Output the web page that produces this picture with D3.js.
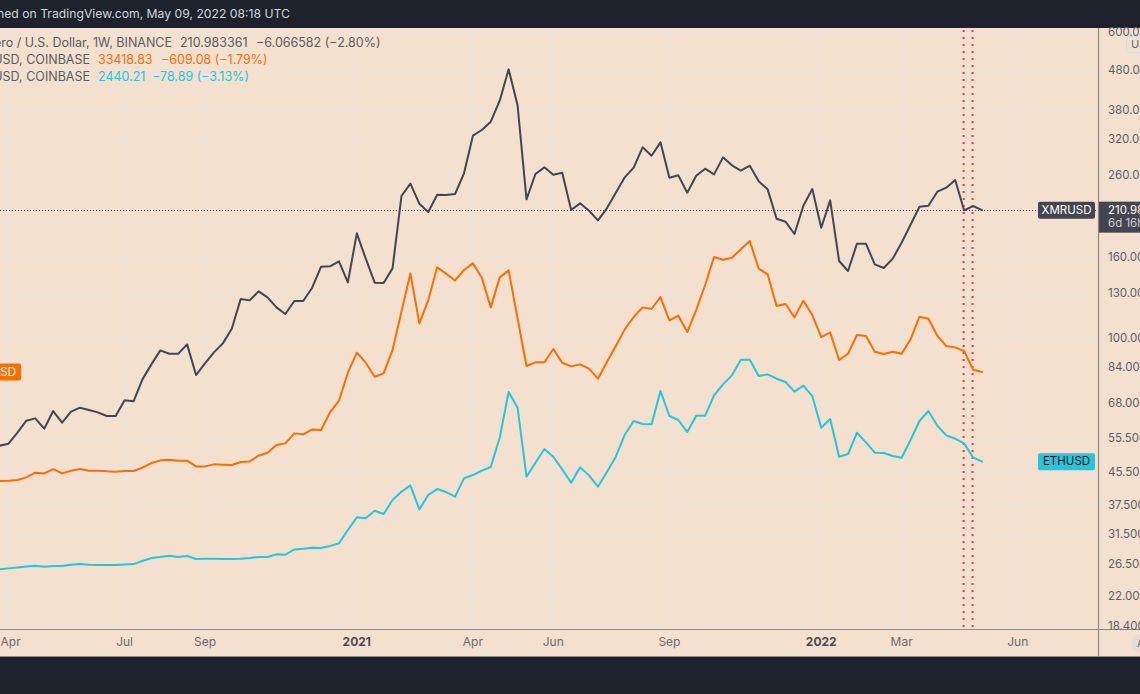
<!DOCTYPE html>
<html>
<head>
<meta charset="utf-8">
<script src="https://cdn.jsdelivr.net/npm/d3@7"></script>
<style>
  html, body { margin: 0; padding: 0; background: #1e222d; }
  svg { display: block; font-family: Inter, Roboto, "Noto Sans", sans-serif; }
</style>
</head>
<body>
<svg id="chart" width="1140" height="694"></svg>
<script>
// ---- Data (weekly closes, Mondays from 2020-03-30 to 2022-05-09), in price-scale units ----
const firstWeek = new Date(Date.UTC(2020, 2, 30));
const lastWeek = new Date(Date.UTC(2022, 4, 9));

const xmrValues = [52.98,
  53.61, 57.18, 61.35, 62.20, 58.54, 64.94, 60.64, 64.68, 66.22, 65.32,
  64.43, 63.06, 63.06, 69.13, 68.73, 78.19, 85.38, 92.70, 90.90, 90.90,
  96.02, 80.21, 85.89, 91.61, 96.58, 105.26, 125.27, 124.29, 131.03, 126.50,
  119.29, 114.71, 123.81, 123.81, 133.88, 151.44, 151.74, 156.25, 138.13, 184.15,
  158.72, 137.87, 137.59, 149.96, 229.23, 246.45, 219.15, 208.69, 231.03, 230.59,
  231.96, 261.84, 326.60, 337.63, 354.54, 401.04, 481.97, 390.19, 224.81, 260.82,
  271.22, 259.81, 262.86, 211.17, 219.59, 210.34, 198.75, 213.25, 233.77, 255.76,
  270.68, 304.98, 290.43, 314.08, 255.28, 258.80, 233.77, 258.28, 269.12, 260.30,
  287.62, 274.42, 265.96, 273.90, 249.85, 238.38, 200.69, 197.19, 183.43, 216.60,
  238.85, 190.36, 223.48, 156.56, 147.63, 173.32, 173.32, 153.52, 150.26, 158.72,
  174.33, 193.74, 215.32, 216.60, 235.13, 240.72, 251.80, 210.74, 216.16, 210.98];

const btcValues = [43.07,
  43.15, 43.32, 44.00, 45.22, 45.04, 46.21, 45.04, 45.76, 46.21, 45.76,
  45.76, 45.58, 45.49, 45.67, 45.67, 46.57, 47.86, 48.62, 48.81, 48.52,
  48.52, 46.93, 46.93, 47.49, 47.40, 47.30, 48.14, 48.33, 49.97, 50.85,
  53.19, 53.72, 56.96, 56.63, 58.31, 58.09, 64.43, 68.99, 81.31, 91.44,
  86.22, 79.43, 80.99, 92.87, 116.30, 145.62, 108.61, 124.54, 150.85, 145.35,
  139.76, 148.51, 154.43, 141.97, 119.29, 142.24, 148.21, 111.84, 84.56, 86.40,
  86.40, 93.42, 86.22, 84.39, 85.38, 83.24, 78.50, 86.56, 95.08, 104.85,
  112.71, 119.29, 118.14, 126.75, 110.54, 113.60, 103.22, 117.44, 136.00, 160.27,
  157.79, 159.64, 167.65, 176.05, 149.68, 144.78, 120.23, 121.65, 112.50, 124.06,
  114.05, 100.24, 103.02, 87.59, 90.90, 101.42, 100.82, 91.98, 90.73, 91.98,
  90.90, 98.87, 112.94, 111.62, 101.02, 95.08, 94.34, 92.34, 82.75, 81.63];

const ethValues = [25.65,
  25.80, 25.95, 26.10, 26.21, 26.05, 26.15, 26.15, 26.36, 26.46, 26.36,
  26.31, 26.31, 26.31, 26.41, 26.46, 26.93, 27.41, 27.57, 27.79, 27.57,
  27.74, 27.25, 27.30, 27.30, 27.25, 27.25, 27.30, 27.41, 27.57, 27.57,
  28.01, 27.95, 28.84, 28.95, 29.13, 29.07, 29.41, 29.88, 32.31, 34.80,
  34.60, 36.18, 35.49, 38.52, 40.45, 41.98, 36.47, 39.67, 41.09, 40.37,
  39.29, 43.74, 44.61, 45.76, 46.75, 55.53, 72.59, 66.22, 44.17, 47.95,
  51.96, 49.67, 46.12, 42.65, 46.66, 44.52, 41.66, 45.40, 49.67, 56.52,
  61.24, 60.17, 60.05, 73.02, 63.06, 61.60, 57.41, 63.18, 63.18, 71.19,
  75.93, 80.05, 87.75, 87.75, 79.74, 80.52, 78.50, 76.98, 72.74, 75.34,
  70.91, 58.89, 61.96, 49.67, 50.46, 57.18, 54.03, 50.85, 50.76, 49.87,
  49.38, 54.78, 61.24, 64.94, 59.58, 56.30, 55.20, 53.72, 49.48, 48.24];

const yGridValues = [600, 480, 380, 320, 260, 200, 160, 130, 100, 84, 68, 55.5, 45.5, 37.5, 31.5, 26.5, 22, 18.4];
const yTickLabels = ["600.00", "480.00", "380.00", "320.00", "260.00", "", "160.00", "130.00", "100.00", "84.000", "68.000", "55.500", "45.500", "37.500", "31.500", "26.500", "22.000", "18.400"];
const xTickDates = [[2020,3,6],[2020,6,6],[2020,8,7],[2021,0,4],[2021,3,5],[2021,5,7],[2021,8,6],[2022,0,3],[2022,2,7],[2022,5,6]];
const xTickLabels = ["Apr", "Jul", "Sep", "2021", "Apr", "Jun", "Sep", "2022", "Mar", "Jun"];
const markerDates = [[2022,3,25],[2022,4,2]];

const legendRows = [
  { name: "Monero / U.S. Dollar, 1W, BINANCE", last: "210.983361", change: "\u22126.066582 (\u22122.80%)" },
  { name: "BTCUSD, COINBASE", last: "33418.83", change: "\u2212609.08 (\u22121.79%)" },
  { name: "ETHUSD, COINBASE", last: "2440.21", change: "\u221278.89 (\u22123.13%)" }
];

// ---- Styles ----
const W = 1140, H = 694;
const plot = { left: 0, right: 1098, top: 28, bottom: 629 };
const bg = "#f3e0cf";
const gridColor = "#ebe3dc";
const colXmr = "#434651", colBtc = "#ff6d00", colEth = "#26c6da";

const weeks = d3.utcMonday.range(firstWeek, new Date(lastWeek.getTime() + 86400000));

const x = d3.scaleUtc()
  .domain([new Date(Date.UTC(2020, 3, 6)), lastWeek])
  .range([8.5, 982]);
const y = d3.scaleLog().domain([18.4, 600]).range([626, 32]);

const svg = d3.select("#chart");

// backgrounds
svg.append("rect").attr("x", 0).attr("y", 0).attr("width", W).attr("height", H).attr("fill", "#1e222d");
svg.append("rect").attr("x", 0).attr("y", 28).attr("width", W).attr("height", 629).attr("fill", bg);

// clip
svg.append("clipPath").attr("id", "plotclip")
  .append("rect").attr("x", plot.left).attr("y", plot.top)
  .attr("width", plot.right - plot.left).attr("height", plot.bottom - plot.top);

// grid
const grid = svg.append("g").attr("clip-path", "url(#plotclip)");
grid.selectAll("line.h").data(yGridValues).join("line")
  .attr("x1", plot.left).attr("x2", plot.right)
  .attr("y1", d => Math.round(y(d)) + 0.5).attr("y2", d => Math.round(y(d)) + 0.5)
  .attr("stroke", gridColor).attr("stroke-width", 1.2);
const tickDates = xTickDates.map(d => new Date(Date.UTC(d[0], d[1], d[2])));
grid.selectAll("line.v").data(tickDates).join("line")
  .attr("x1", d => Math.round(x(d)) + 0.5).attr("x2", d => Math.round(x(d)) + 0.5)
  .attr("y1", plot.top).attr("y2", plot.bottom)
  .attr("stroke", gridColor).attr("stroke-width", 1.2);

// red dotted markers
const markers = markerDates.map(d => new Date(Date.UTC(d[0], d[1], d[2])));
svg.append("g").selectAll("line").data(markers).join("line")
  .attr("x1", d => x(d) - 0.5).attr("x2", d => x(d) - 0.5)
  .attr("y1", plot.top + 2).attr("y2", plot.bottom)
  .attr("stroke", "#f23645").attr("stroke-width", 2).attr("stroke-dasharray", "2,5");

// last price dotted line
const lastXmr = xmrValues[xmrValues.length - 1];
svg.append("line")
  .attr("x1", plot.left).attr("x2", plot.right)
  .attr("y1", Math.round(y(lastXmr)) + 0.5).attr("y2", Math.round(y(lastXmr)) + 0.5)
  .attr("stroke", colXmr).attr("stroke-width", 1).attr("stroke-dasharray", "1,2");

// series
const line = d3.line().x((d, i) => x(weeks[i])).y(d => y(d)).curve(d3.curveLinear);
const lines = svg.append("g").attr("clip-path", "url(#plotclip)");
[[ethValues, colEth], [btcValues, colBtc], [xmrValues, colXmr]].forEach(([vals, col]) => {
  lines.append("path").datum(vals).attr("d", line)
    .attr("fill", "none").attr("stroke", col).attr("stroke-width", 2)
    .attr("stroke-linejoin", "round").attr("stroke-linecap", "round");
});

// axes frame
svg.append("line").attr("x1", 0).attr("x2", W).attr("y1", plot.bottom + 0.5).attr("y2", plot.bottom + 0.5)
  .attr("stroke", "#8f8a86").attr("stroke-width", 1);
svg.append("line").attr("x1", 0).attr("x2", W).attr("y1", 656.5).attr("y2", 656.5)
  .attr("stroke", "#8f8a86").attr("stroke-width", 1);
svg.append("line").attr("x1", plot.right + 0.5).attr("x2", plot.right + 0.5).attr("y1", 28).attr("y2", 657)
  .attr("stroke", "#8f8a86").attr("stroke-width", 1.2);

// y axis labels (right)
svg.append("g").selectAll("text").data(yGridValues.filter((d, i) => yTickLabels[i] !== "")).join("text")
  .attr("x", 1108).attr("y", d => y(d) + 1)
  .attr("dominant-baseline", "middle")
  .attr("font-size", 11.5).attr("fill", "#5d5f66")
  .text(d => yTickLabels[yGridValues.indexOf(d)]);

// x axis labels
svg.append("g").selectAll("text").data(tickDates).join("text")
  .attr("x", d => x(d)).attr("y", 643)
  .attr("text-anchor", (d, i) => i === 0 ? "start" : "middle")
  .attr("dx", (d, i) => i === 0 ? -8 : 0)
  .attr("dominant-baseline", "middle")
  .attr("font-size", 12)
  .attr("font-weight", (d, i) => /^\d{4}$/.test(xTickLabels[i]) ? 700 : 400)
  .attr("fill", (d, i) => /^\d{4}$/.test(xTickLabels[i]) ? "#4a4b50" : "#6a6b70")
  .text((d, i) => xTickLabels[i]);

// top bar text
svg.append("text").attr("x", 290).attr("y", 15).attr("text-anchor", "end")
  .attr("dominant-baseline", "middle").attr("font-size", 12.2).attr("fill", "#d1d4dc")
  .text("Published on TradingView.com, May 09, 2022 08:18 UTC");

// legend
const legendY = [44, 61, 78];
const nameEnd = [172, 90, 90];
const lastStart = [180, 98, 98];
const changeStart = [256, 161, 152];
const valueCols = [colXmr, colBtc, colEth];
legendRows.forEach((r, i) => {
  svg.append("text").attr("x", nameEnd[i]).attr("y", legendY[i]).attr("text-anchor", "end")
    .attr("dominant-baseline", "middle").attr("font-size", 12.5).attr("fill", "#5b5c63").text(r.name);
  svg.append("text").attr("x", lastStart[i]).attr("y", legendY[i])
    .attr("dominant-baseline", "middle").attr("font-size", 12.5).attr("fill", i === 0 ? "#5b5c63" : valueCols[i]).text(r.last);
  svg.append("text").attr("x", changeStart[i]).attr("y", legendY[i])
    .attr("dominant-baseline", "middle").attr("font-size", 12.5).attr("fill", i === 0 ? "#5b5c63" : valueCols[i]).text(r.change);
});

// series labels
const yXmr = y(lastXmr);
svg.append("rect").attr("x", 1038).attr("y", yXmr - 8.5).attr("width", 57).attr("height", 17).attr("rx", 2).attr("fill", colXmr);
svg.append("text").attr("x", 1066.5).attr("y", yXmr + 0.5).attr("text-anchor", "middle").attr("dominant-baseline", "middle")
  .attr("font-size", 11.5).attr("fill", "#ffffff").text("XMRUSD");
svg.append("rect").attr("x", 1099).attr("y", yXmr - 8.5).attr("width", 45).attr("height", 31).attr("fill", colXmr);
svg.append("text").attr("x", 1108).attr("y", yXmr + 0.5).attr("dominant-baseline", "middle")
  .attr("font-size", 11.5).attr("fill", "#ffffff").text("210.98");
svg.append("text").attr("x", 1108).attr("y", yXmr + 14).attr("dominant-baseline", "middle")
  .attr("font-size", 11.5).attr("fill", "#c9cbd1").text("6d 16h");

const yEth = y(ethValues[ethValues.length - 1]);
svg.append("rect").attr("x", 1038).attr("y", yEth - 8.5).attr("width", 57).attr("height", 17).attr("rx", 2).attr("fill", colEth);
svg.append("text").attr("x", 1066.5).attr("y", yEth + 0.5).attr("text-anchor", "middle").attr("dominant-baseline", "middle")
  .attr("font-size", 11.5).attr("fill", "#131722").text("ETHUSD");

const yBtc = y(btcValues[btcValues.length - 1]);
svg.append("rect").attr("x", -40).attr("y", yBtc - 8.5).attr("width", 61).attr("height", 17).attr("rx", 2).attr("fill", colBtc);
svg.append("text").attr("x", 16).attr("y", yBtc + 0.5).attr("text-anchor", "end").attr("dominant-baseline", "middle")
  .attr("font-size", 11.5).attr("fill", "#ffffff").text("BTCUSD");

// currency box top right
svg.append("rect").attr("x", 1126.5).attr("y", 36.5).attr("width", 30).attr("height", 16).attr("rx", 2)
  .attr("fill", bg).attr("stroke", "#cfe0e3");
svg.append("text").attr("x", 1131).attr("y", 45).attr("dominant-baseline", "middle")
  .attr("font-size", 11).attr("fill", "#6a6b70").text("USD");

// auto-scale button
svg.append("circle").attr("cx", 1140).attr("cy", 643).attr("r", 9).attr("fill", "#e8ddd4");
svg.append("text").attr("x", 1137).attr("y", 644).attr("dominant-baseline", "middle")
  .attr("font-size", 10).attr("fill", "#6a6b70").text("A");
</script>
</body>
</html>
